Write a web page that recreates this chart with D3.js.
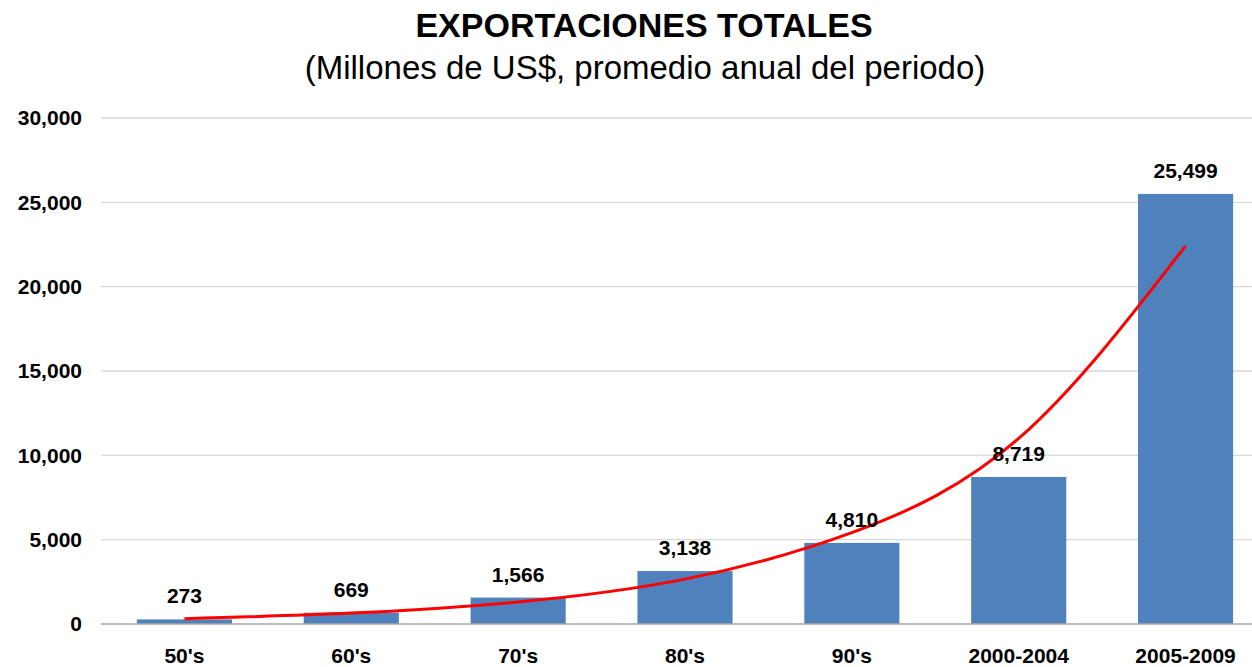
<!DOCTYPE html>
<html>
<head>
<meta charset="utf-8">
<title>Exportaciones totales</title>
<script src="https://d3js.org/d3.v7.min.js"></script>
<style>
  body { margin: 0; background: #fff; }
  text { font-family: "Liberation Sans", Arial, sans-serif; }
</style>
</head>
<body>
<div id="chart"></div>
<script>
// data
var periods = ["50's", "60's", "70's", "80's", "90's", "2000-2004", "2005-2009"];
var exports = [273, 669, 1566, 3138, 4810, 8719, 25499];
// exponential trend line, read at each period
var trend = [317, 645, 1310, 2660, 5420, 11000, 22420];
var yTicks = [0, 5000, 10000, 15000, 20000, 25000, 30000];

var W = 1252, H = 667;
var svg = d3.select("#chart").append("svg")
  .attr("width", W).attr("height", H);

var x = d3.scaleBand()
  .domain(periods)
  .range([101, 1269])
  .paddingInner(0.43)
  .paddingOuter(0.215);

var y = d3.scaleLinear()
  .domain([0, 30000])
  .range([624, 118]);

// gridlines
svg.append("g")
  .selectAll("line")
  .data(yTicks.slice(1))
  .enter().append("line")
  .attr("x1", 101).attr("x2", W)
  .attr("y1", function(d) { return y(d); })
  .attr("y2", function(d) { return y(d); })
  .attr("stroke", "#d9d9d9")
  .attr("stroke-width", 1.3);

// y axis labels
var yAxis = svg.append("g")
  .attr("transform", "translate(82,0)")
  .call(d3.axisLeft(y).tickValues(yTicks).tickSize(0).tickPadding(0).tickFormat(d3.format(",")));
yAxis.select(".domain").remove();
yAxis.selectAll("text")
  .attr("font-size", 21).attr("font-weight", "bold").attr("fill", "#000")
  .style("font-family", "'Liberation Sans', Arial, sans-serif");

// bars
svg.selectAll("rect.bar")
  .data(exports)
  .enter().append("rect")
  .attr("class", "bar")
  .attr("x", function(d, i) { return x(periods[i]); })
  .attr("y", function(d) { return y(d); })
  .attr("width", x.bandwidth())
  .attr("height", function(d) { return y(0) - y(d); })
  .attr("fill", "#4f81bd");

// baseline
svg.append("line")
  .attr("x1", 101).attr("x2", W)
  .attr("y1", y(0)).attr("y2", y(0))
  .attr("stroke", "#a6a6a6").attr("stroke-width", 1.5);

// x axis labels
var xAxis = svg.append("g")
  .attr("transform", "translate(0," + y(0) + ")")
  .call(d3.axisBottom(x).tickSize(0).tickPadding(24));
xAxis.select(".domain").remove();
xAxis.selectAll("text")
  .attr("font-size", 21).attr("font-weight", "bold").attr("fill", "#000")
  .style("font-family", "'Liberation Sans', Arial, sans-serif");

// trend line
var line = d3.line()
  .x(function(d, i) { return x(periods[i]) + x.bandwidth() / 2; })
  .y(function(d) { return y(d); })
  .curve(d3.curveNatural);
svg.append("path")
  .datum(trend)
  .attr("d", line)
  .attr("fill", "none")
  .attr("stroke", "#ff0000")
  .attr("stroke-width", 3);

// data labels
svg.selectAll("text.lab")
  .data(exports)
  .enter().append("text")
  .attr("class", "lab")
  .attr("x", function(d, i) { return x(periods[i]) + x.bandwidth() / 2; })
  .attr("y", function(d) { return y(d) - 16; })
  .attr("text-anchor", "middle")
  .attr("font-size", 21).attr("font-weight", "bold")
  .text(function(d) { return d3.format(",")(d); });

// titles
svg.append("text")
  .attr("x", 644).attr("y", 37)
  .attr("text-anchor", "middle")
  .attr("font-size", 34).attr("font-weight", "bold")
  .text("EXPORTACIONES TOTALES");
svg.append("text")
  .attr("x", 645).attr("y", 79)
  .attr("text-anchor", "middle")
  .attr("font-size", 33)
  .text("(Millones de US$, promedio anual del periodo)");
</script>
</body>
</html>
